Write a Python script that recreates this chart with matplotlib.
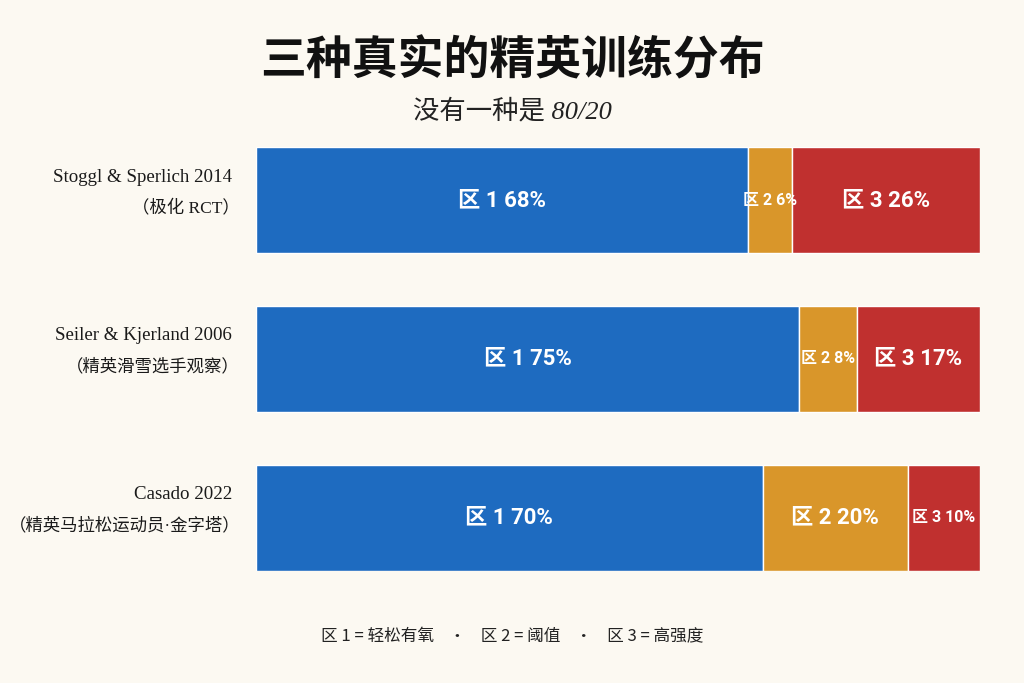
import matplotlib
matplotlib.use("Agg")
import matplotlib.pyplot as plt

# ---- palette -------------------------------------------------------------
BG = "#fcf9f2"
INK = "#1a1a1a"
Z_COLORS = ["#1e6bc0", "#d9962a", "#c0302f"]

SERIF = ["Liberation Serif", "Noto Sans CJK SC"]
SANS_CJK = ["Noto Sans CJK SC", "DejaVu Sans"]
BAR_FONT = ["Roboto", "Noto Sans CJK SC"]

# ---- data ----------------------------------------------------------------
studies = ["Stoggl & Sperlich 2014", "Seiler & Kjerland 2006", "Casado 2022"]
notes = ["（极化 RCT）", "（精英滑雪选手观察）", "（精英马拉松运动员·金字塔）"]
zone1 = [68, 75, 70]
zone2 = [6, 8, 20]
zone3 = [26, 17, 10]
zone_names = ["区 1", "区 2", "区 3"]

fig = plt.figure(figsize=(10.24, 6.83), dpi=100)
fig.patch.set_facecolor(BG)
ax = fig.add_axes([0.25, 0.164, 0.707, 0.621])
ax.set_facecolor(BG)

h = 0.67
ypos = list(range(len(studies)))
left = [0] * len(studies)
for zi, vals in enumerate([zone1, zone2, zone3]):
    ax.barh(ypos, vals, height=h, left=left, color=Z_COLORS[zi],
            edgecolor="white", linewidth=1.0)
    for y, l, v in zip(ypos, left, vals):
        small = v <= 10
        ax.text(l + v / 2, y, f"{zone_names[zi]} {v}%", ha="center", va="center",
                color="white", fontsize=11.5 if small else 16, weight="bold",
                family=BAR_FONT)
    left = [a + b for a, b in zip(left, vals)]

ax.set_xlim(0, 100)
ax.set_ylim(len(studies) - 1 + h / 2, -h / 2)
ax.axis("off")

for y, s, n in zip(ypos, studies, notes):
    ax.text(-0.033, y - 0.145, s, transform=ax.get_yaxis_transform(),
            ha="right", va="center", fontsize=13.6, color=INK, family=SERIF)
    ax.text(-0.022, y + 0.05, n, transform=ax.get_yaxis_transform(),
            ha="right", va="center", fontsize=12.5, color=INK, family=SERIF)

fig.text(0.5, 0.91, "三种真实的精英训练分布", ha="center", va="center",
         fontsize=33, weight="bold", color="#111111", family=SANS_CJK)
fig.text(0.5, 0.838, "没有一种是 80/20", ha="center", va="center",
         fontsize=19, style="italic", color="#222222",
         family=["Liberation Serif", "Noto Sans CJK SC"])

fig.text(0.5, 0.067, "区 1 = 轻松有氧    ·    区 2 = 阈值    ·    区 3 = 高强度",
         ha="center", va="center", fontsize=12, color="#222222",
         family=SANS_CJK)

fig.savefig("out.png", dpi=100, facecolor=BG)
